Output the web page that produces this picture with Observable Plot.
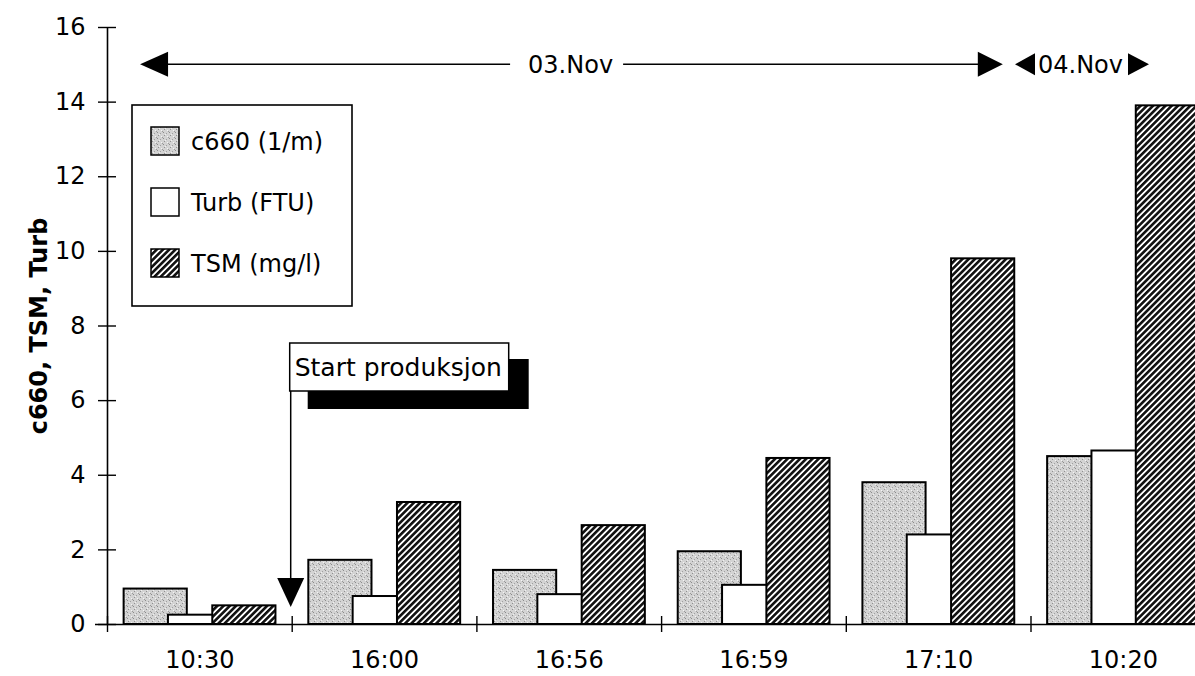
<!DOCTYPE html>
<html><head><meta charset="utf-8">
<script src="https://cdn.jsdelivr.net/npm/d3@7"></script>
<script src="https://cdn.jsdelivr.net/npm/@observablehq/plot@0.6"></script>
<style>
html,body{margin:0;padding:0;background:#fff;overflow:hidden;}
</style></head><body>
<svg width="0" height="0" style="position:absolute">
<defs>
<pattern id="hatch" width="4.4" height="4.4" patternUnits="userSpaceOnUse" patternTransform="rotate(45)">
<rect width="4.4" height="4.4" fill="#fff"/>
<rect width="2.6" height="4.4" fill="#111"/>
</pattern>
<pattern id="stipple" width="6" height="6" patternUnits="userSpaceOnUse">
<rect width="6" height="6" fill="#d3d3d3"/>
<rect x="1" y="0" width="1" height="1" fill="#8c8c8c"/>
<rect x="4" y="1" width="1" height="1" fill="#a0a0a0"/>
<rect x="2" y="3" width="1" height="1" fill="#909090"/>
<rect x="5" y="4" width="1" height="1" fill="#f4f4f4"/>
<rect x="0" y="5" width="1" height="1" fill="#9a9a9a"/>
<rect x="3" y="2" width="1" height="1" fill="#f0f0f0"/>
</pattern>
</defs></svg>
<div id="chart"></div>
<script>
// ---- data ----
const times = ["10:30", "16:00", "16:56", "16:59", "17:10", "10:20"];
const c660 = [0.95, 1.72, 1.45, 1.95, 3.8, 4.5];
const turb = [0.25, 0.75, 0.8, 1.05, 2.4, 4.65];
const tsm  = [0.5, 3.27, 2.65, 4.45, 9.8, 13.9];
const seriesNames = ["c660 (1/m)", "Turb (FTU)", "TSM (mg/l)"];
const yTicks = [0, 2, 4, 6, 8, 10, 12, 14, 16];
const yLabel = "c660, TSM, Turb";
const dayLabels = ["03.Nov", "04.Nov"];
const eventLabel = "Start produksjon";

// ---- layout / style ----
const FONT = "DejaVu Sans";
const fills = ["url(#stipple)", "#fff", "url(#hatch)"];
const barOffset = 0.09, barStep = 0.24, barWidth = 0.342;
const seriesValues = [c660, turb, tsm];
const bars = seriesValues.map((vals, s) => vals.map((v, i) => ({i, s, v})));
const bandEdges = d3.range(times.length + 1);
const bandCenters = times.map((t, i) => i + 0.5);

const rectFor = (s) => Plot.rect(bars[s], {
  x1: d => d.i + barOffset + d.s * barStep,
  x2: d => d.i + barOffset + d.s * barStep + barWidth,
  y1: 0, y2: d => d.v,
  fill: fills[s], stroke: "#000", strokeWidth: 2
});

const plot = Plot.plot({
  width: 1195, height: 676,
  marginLeft: 107, marginTop: 27, marginBottom: 52, marginRight: 0,
  style: {fontFamily: FONT, fontSize: "24px", color: "#000", background: "#fff"},
  x: {domain: [0, times.length], range: [107, 107 + 6 * 184.7]},
  y: {domain: [0, 16], range: [624, 27]},
  marks: [
    rectFor(0), rectFor(1), rectFor(2),
    Plot.ruleY([0], {x1: 0, x2: times.length, insetLeft: -12, stroke: "#000", strokeWidth: 1.6}),
    Plot.ruleX([0], {y1: 0, y2: 16, stroke: "#000", strokeWidth: 1.6}),
    Plot.ruleY(yTicks, {x1: 0, x2: 0, insetLeft: -9, insetRight: -9, stroke: "#000", strokeWidth: 1.4}),
    Plot.ruleX(bandEdges, {y1: 0, y2: 0, insetTop: -8, insetBottom: -8, stroke: "#000", strokeWidth: 1.4}),
    Plot.axisY({ticks: yTicks, tickSize: 0, tickPadding: 22, label: yLabel, labelAnchor: "center", labelArrow: false, labelOffset: 78}),
    Plot.axisX({ticks: bandCenters, tickFormat: d => times[Math.floor(d)], tickSize: 0, tickPadding: 26, label: null})
  ]
});
document.getElementById("chart").appendChild(plot);

// ---- annotations (positioned through the plot's scales) ----
const xs = plot.scale("x"), ys = plot.scale("y");
const X = v => xs.apply(v), Y = v => ys.apply(v);
const svg = d3.select(plot);
svg.selectAll("[aria-label='y-axis label'] text").attr("font-weight", "bold").attr("font-size", 24);

const g = svg.append("g").attr("font-family", FONT).attr("font-size", 24).attr("text-anchor", "start");
const tri = (pts) => g.append("path").attr("d", "M" + pts.map(p => p.join(",")).join("L") + "Z").attr("fill", "#000");

// date arrows at y = 15
const ay = Y(15);
const t1 = g.append("text").attr("x", X(2.51)).attr("y", ay).attr("dy", "0.36em").attr("text-anchor", "middle").text(dayLabels[0]);
const b1 = t1.node().getBBox();
const lTip = X(0.179), rTip = X(4.85);
tri([[lTip, ay], [lTip + 28, ay - 12.5], [lTip + 28, ay + 12.5]]);
tri([[rTip, ay], [rTip - 25, ay - 12.5], [rTip - 25, ay + 12.5]]);
g.append("line").attr("x1", lTip + 27).attr("x2", b1.x - 18).attr("y1", ay).attr("y2", ay).attr("stroke", "#000").attr("stroke-width", 1.5);
g.append("line").attr("x1", b1.x + b1.width + 10).attr("x2", rTip - 24).attr("y1", ay).attr("y2", ay).attr("stroke", "#000").attr("stroke-width", 1.5);

const l2 = X(4.916);
tri([[l2, ay], [l2 + 20, ay - 11], [l2 + 20, ay + 11]]);
const t2 = g.append("text").attr("x", l2 + 23).attr("y", ay).attr("dy", "0.36em").text(dayLabels[1]);
const b2 = t2.node().getBBox();
const r2 = b2.x + b2.width + 5;
tri([[r2, ay - 11], [r2 + 21, ay], [r2, ay + 11]]);

// legend
const lg = g.append("g");
lg.append("rect").attr("x", 132).attr("y", 105).attr("width", 220).attr("height", 201).attr("fill", "#fff").attr("stroke", "#000").attr("stroke-width", 1.6);
seriesNames.forEach((name, s) => {
  const yy = 127 + s * 61;
  lg.append("rect").attr("x", 151).attr("y", yy).attr("width", 28).attr("height", 28).attr("fill", fills[s]).attr("stroke", "#000").attr("stroke-width", 1.5);
  lg.append("text").attr("x", 191).attr("y", yy + 14).attr("dy", "0.36em").text(name);
});

// "Start produksjon" callout at the band edge x = 1
const ex = X(1) - 1;
g.append("rect").attr("x", ex + 17).attr("y", 359).attr("width", 221).attr("height", 50).attr("fill", "#000");
g.append("rect").attr("x", ex - 1).attr("y", 343).attr("width", 219).attr("height", 48).attr("fill", "#fff").attr("stroke", "#000").attr("stroke-width", 1.5);
g.append("text").attr("x", ex + 4).attr("y", 367).attr("dy", "0.36em").attr("font-size", 25).text(eventLabel);
g.append("line").attr("x1", ex).attr("x2", ex).attr("y1", 391).attr("y2", 580).attr("stroke", "#000").attr("stroke-width", 1.5);
tri([[ex - 13.5, 578], [ex + 13.5, 578], [ex, 607]]);
</script>
</body></html>
